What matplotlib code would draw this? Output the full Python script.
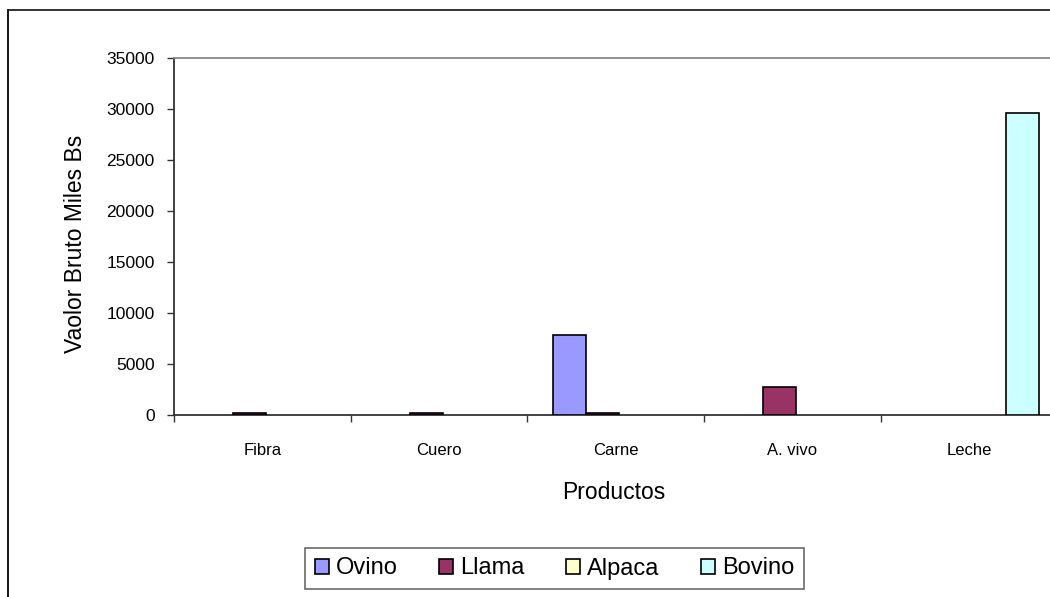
import matplotlib.pyplot as plt
import numpy as np
from matplotlib.lines import Line2D

# Valor bruto de producción por producto y especie (miles de Bs)
productos = ["Fibra", "Cuero", "Carne", "A. vivo", "Leche"]
especies = ["Ovino", "Llama", "Alpaca", "Bovino"]
ovino = [0, 0, 7800, 0, 0]
llama = [200, 200, 200, 2700, 0]
alpaca = [0, 0, 0, 0, 0]
bovino = [0, 0, 0, 0, 29600]
colores = ["#9999FF", "#993366", "#FFFFCC", "#CCFFFF"]

y_ticks = [0, 5000, 10000, 15000, 20000, 25000, 30000, 35000]

plt.rcParams["font.family"] = ["Liberation Sans", "DejaVu Sans"]

fig = plt.figure(figsize=(10.5, 5.97), dpi=100)
W, H = 1050, 597
# el área de trazado se sale por la derecha del marco
ax = fig.add_axes([174 / W, 1 - 415 / H, 883.5 / W, 357 / H])

x = np.arange(len(productos))
ancho = 0.187
series = [ovino, llama, alpaca, bovino]
for i, (nombre, vals, col) in enumerate(zip(especies, series, colores)):
    offs = (i - 1.5) * ancho + 0.02
    vals = np.array(vals, dtype=float)
    hay = vals > 0  # las barras en cero no se dibujan
    ax.bar(x[hay] + offs, vals[hay], width=ancho, color=col,
           edgecolor="black", linewidth=1.2, zorder=3)
    # entrada de leyenda para cada especie, aunque no tenga barras
    ax.bar([np.nan], [np.nan], color=col, edgecolor="black",
           linewidth=1.2, label=nombre)

ax.set_xlim(-0.5, len(productos) - 0.5)
ax.set_ylim(0, 35000)
ax.set_yticks(y_ticks)
ax.set_yticklabels([str(v) for v in y_ticks])

# etiquetas centradas, marcas en los limites de cada grupo
ax.set_xticks(x)
ax.set_xticklabels(productos)
ax.set_xticks(np.arange(len(productos) + 1) - 0.5, minor=True)
ax.tick_params(axis="x", which="major", length=0, pad=20, labelsize=12)
ax.tick_params(axis="x", which="minor", length=5, width=1, color="#333333")
ax.tick_params(axis="y", length=5, width=1, color="#333333", pad=9,
               labelsize=12.5)

for lado in ["left", "bottom"]:
    ax.spines[lado].set_color("#333333")
    ax.spines[lado].set_linewidth(1.3)
ax.spines["top"].set_color("#888888")
ax.spines["top"].set_linewidth(1.3)
ax.spines["right"].set_visible(False)

ax.set_xlabel("Productos", fontsize=16.5)
ax.xaxis.set_label_coords(0.498, -0.185)
ax.set_ylabel("Vaolor Bruto Miles Bs", fontsize=16.5)
ax.yaxis.set_label_coords(-0.098, 0.48)

# marco exterior del grafico
fig.add_artist(Line2D([8 / W, 8 / W], [0, 1 - 10 / H], color="black",
                      linewidth=1.3, transform=fig.transFigure))
fig.add_artist(Line2D([8 / W, 1], [1 - 10 / H, 1 - 10 / H], color="#222222",
                      linewidth=1.3, transform=fig.transFigure))

leg = fig.legend(loc="center", bbox_to_anchor=(554.5 / W, 1 - 568.5 / H),
                 ncol=4, fontsize=17, frameon=True, fancybox=False,
                 edgecolor="#444444", handlelength=0.6, handleheight=0.6,
                 handletextpad=0.3, columnspacing=1.75, borderpad=0.4)
leg.get_frame().set_linewidth(1.2)

fig.savefig("out.png", dpi=100)
